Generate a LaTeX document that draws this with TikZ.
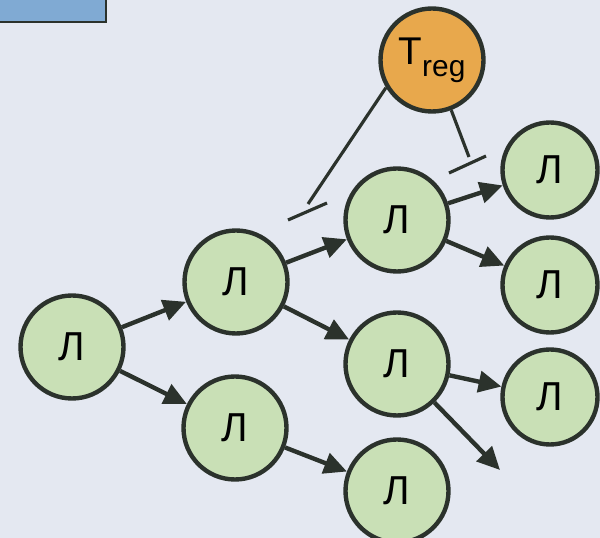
\documentclass[tikz,border=0pt]{standalone}
\usepackage{fontspec}
\setmainfont{Liberation Sans}
\usepackage{xcolor}
\usepackage{tikz}
\usetikzlibrary{arrows.meta}
\definecolor{bgColor}{HTML}{E4E8F1}
\definecolor{lineColor}{HTML}{2B322C}
\definecolor{cellGreen}{HTML}{C9E0B6}
\definecolor{cellOrange}{HTML}{E8A84C}
\definecolor{boxBlue}{HTML}{80AAD3}

\begin{document}
\begin{tikzpicture}[
cell/.style={shape=circle,draw=lineColor,fill=cellGreen,line width=2.5pt,
    minimum size=2.06cm,inner sep=0,font=\fontsize{23}{25}\selectfont},
smallCell/.style={cell,minimum size=1.9cm},
tregCell/.style={cell,fill=cellOrange},
myarrow/.style={-{Triangle[length=13pt,width=12pt]},line width=2.5pt,draw=lineColor},
inhibit/.style={line width=1.8pt,draw=lineColor}
]
\useasboundingbox (0,0) rectangle (12,10.76);
\fill[bgColor] (0,0) rectangle (12,10.76);
\filldraw[fill=boxBlue,draw=lineColor,line width=1.6pt] (-0.2,10.32) rectangle (2.12,11);
\node[cell] (l0) at (1.44,3.82) {Л};
\node[cell] (l1) at (4.72,5.12) {Л};
\node[cell] (l2) at (4.70,2.20) {Л};
\node[cell] (l3) at (7.94,6.36) {Л};
\node[cell] (l4) at (7.94,3.48) {Л};
\node[cell] (l5) at (7.94,0.94) {Л};
\node[smallCell] (l6) at (11.00,7.36) {Л};
\node[smallCell] (l7) at (11.00,5.06) {Л};
\node[smallCell] (l8) at (11.00,2.82) {Л};
\node[tregCell] (treg) at (8.64,9.56) {{\fontsize{22}{24}\selectfont T}\raisebox{-7pt}{\fontsize{17}{18}\selectfont reg}};
\coordinate (free) at (10.00,1.36);
\coordinate (i1) at (6.16,6.68);
\coordinate (i2) at (9.38,7.62);
\draw[myarrow] (l0) -- (l1);
\draw[myarrow] (l0) -- (l2);
\draw[myarrow] (l1) -- (l3);
\draw[myarrow] (l1) -- (l4);
\draw[myarrow] (l2) -- (l5);
\draw[myarrow] (l3) -- (l6);
\draw[myarrow] (l3) -- (l7);
\draw[myarrow] (l4) -- (l8);
\draw[myarrow] (l4) -- (free);
% inhibition by Treg
\draw[inhibit] (treg.211) -- (i1) (treg.291) -- (i2);
\draw[inhibit] (5.76,6.36) -- (6.54,6.70) (8.98,7.30) -- (9.72,7.64);
\end{tikzpicture}
\end{document}
